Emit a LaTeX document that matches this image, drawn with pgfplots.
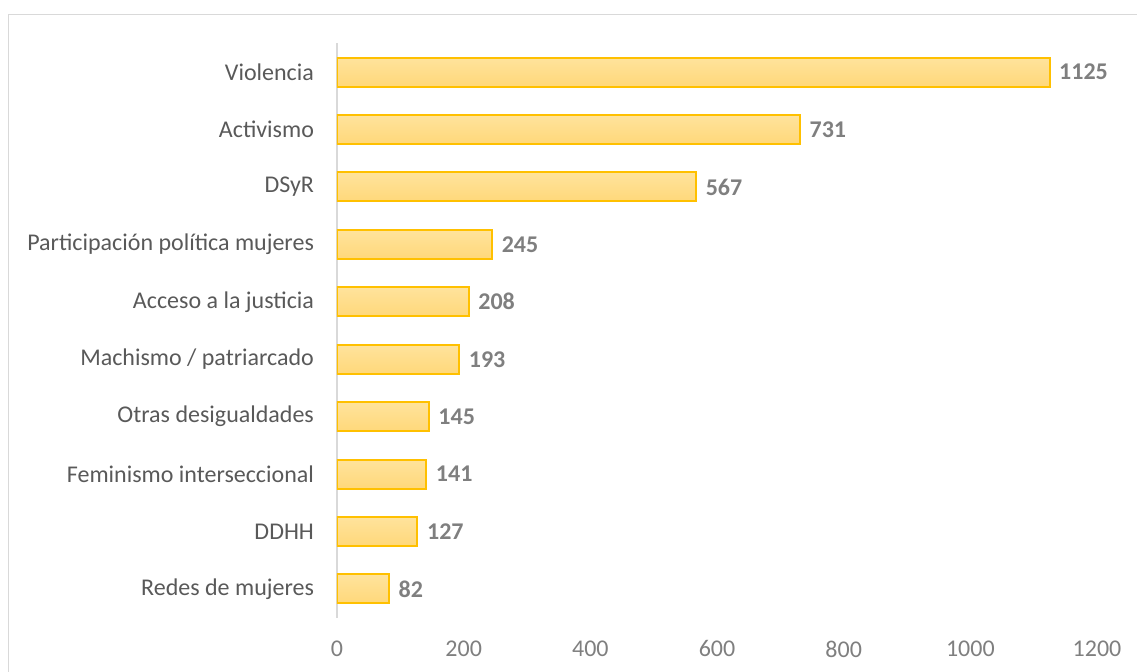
\documentclass[border=0pt]{standalone}
\usepackage{pgfplots}
\pgfplotsset{compat=1.18}
\usepackage{fontspec}
\setmainfont{Carlito}
\definecolor{lbl}{HTML}{595959}
\definecolor{tck}{HTML}{7F7F7F}
\definecolor{frm}{HTML}{D9D9D9}
\definecolor{bord}{HTML}{FFC000}
\definecolor{topc}{HTML}{FFE39C}
\definecolor{botc}{HTML}{FFD87A}
\begin{document}
\begin{tikzpicture}
\useasboundingbox (0,0) rectangle (568.5pt,335.5pt);
\begin{scope}
\clip (0,0) rectangle (568.5pt,335.5pt);
\draw[frm, line width=0.8pt] (4.3pt,328.3pt) rectangle (600pt,-20pt);
\end{scope}
\begin{axis}[
  at={(168.5pt,26.65pt)}, anchor=south west,
  scale only axis, width=380pt, height=287.2pt,
  xmin=0, xmax=1200, ymin=-0.5, ymax=9.5,
  xbar, bar width=14.5pt, bar shift=0pt,
  axis lines*=left,
  x axis line style={draw=none},
  y axis line style={draw=frm, line width=1pt},
  ytick={0,...,9},
  yticklabels={Redes de mujeres, DDHH, Feminismo interseccional, Otras desigualdades, {Machismo / patriarcado\ }, Acceso a la justicia, Participación política mujeres, DSyR, Activismo, Violencia},
  xtick={0,200,...,1200},
  major tick length=0pt,
  /pgf/number format/assume math mode=true,
  /pgf/number format/1000 sep={},
  tick label style={font=\fontsize{12}{14}\selectfont},
  yticklabel style={color=lbl, xshift=-8pt},
  xticklabel style={color=tck, yshift=-8pt},
  nodes near coords,
  nodes near coords style={font=\fontsize{12}{14}\selectfont\bfseries, color=tck, anchor=west, xshift=1pt},
  barst/.style={draw=bord, line width=1pt, top color=topc, bottom color=botc},
]
\addplot[barst] coordinates {(82,0)};
\addplot[barst] coordinates {(127,1)};
\addplot[barst] coordinates {(141,2)};
\addplot[barst] coordinates {(145,3)};
\addplot[barst] coordinates {(193,4)};
\addplot[barst] coordinates {(208,5)};
\addplot[barst] coordinates {(245,6)};
\addplot[barst] coordinates {(567,7)};
\addplot[barst] coordinates {(731,8)};
\addplot[barst] coordinates {(1125,9)};
\end{axis}
\end{tikzpicture}
\end{document}
